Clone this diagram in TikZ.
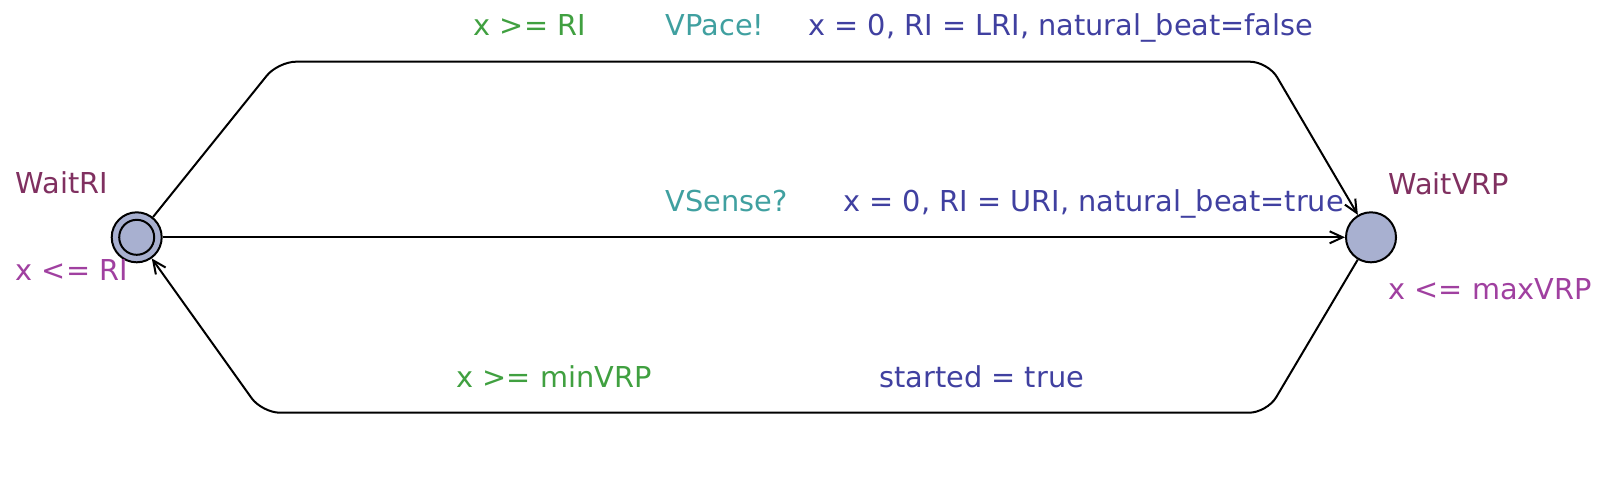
\documentclass[tikz,border=0pt]{standalone}
\usepackage{fontspec}
\setmainfont{DejaVu Sans}
\usetikzlibrary{arrows.meta}
\definecolor{locname}{RGB}{128,48,96}
\definecolor{invcol}{RGB}{160,64,160}
\definecolor{guardcol}{RGB}{64,160,64}
\definecolor{synccol}{RGB}{64,160,160}
\definecolor{updcol}{RGB}{64,64,160}
\definecolor{locfill}{RGB}{168,176,208}
\begin{document}
\begin{tikzpicture}[x=0.5pt,y=-0.5pt,
  loc/.style={circle,draw=black,line width=1pt,fill=locfill,minimum size=25pt,inner sep=0pt},
  inner/.style={circle,draw=black,line width=1pt,fill=locfill,minimum size=17.5pt,inner sep=0pt},
  lbl/.style={anchor=base west,inner sep=0pt,font=\fontsize{14.4}{17}\selectfont},
  edge/.style={line width=1pt,draw=black,-{Straight Barb[length=6.5pt,width=6pt,line width=1pt]},rounded corners=9pt}
]
\useasboundingbox (0,0) rectangle (1610,484);
\node[loc] (ri) at (136.7,237.3) {};
\node[inner] (riin) at (136.7,237.3) {};
\node[loc] (vrp) at (1371,237.3) {};
\coordinate (t1) at (278,61.7);
\coordinate (t2) at (1268,61.7);
\coordinate (b1) at (1267,412.7);
\coordinate (b2) at (262,412.7);
\draw[edge] (ri) -- (t1) -- (t2) -- (vrp);
\draw[edge] (ri) -- (vrp);
\draw[edge] (vrp) -- (b1) -- (b2) -- (ri);
\node[lbl,text=locname] (n1) at (15.4,193.3) {WaitRI};
\node[lbl,text=invcol] (i1) at (15.4,280) {x <= RI};
\node[lbl,text=locname] (n2) at (1388,194.3) {WaitVRP};
\node[lbl,text=invcol] (i2) at (1388,299) {x <= maxVRP};
\node[lbl,text=guardcol] (g1) at (473.4,35) {x >= RI};
\node[lbl,text=synccol] (s1) at (665.4,35) {VPace!};
\node[lbl,text=updcol] (u1) at (808,35) {x = 0, RI = LRI, natural\_beat=false};
\node[lbl,text=synccol] (s2) at (665.4,211.7) {VSense?};
\node[lbl,text=updcol] (u2) at (843,211.7) {x = 0, RI = URI, natural\_beat=true};
\node[lbl,text=guardcol] (g3) at (456,387.3) {x >= minVRP};
\node[lbl,text=updcol] (u3) at (879,387.3) {started = true};
\end{tikzpicture}
\end{document}
